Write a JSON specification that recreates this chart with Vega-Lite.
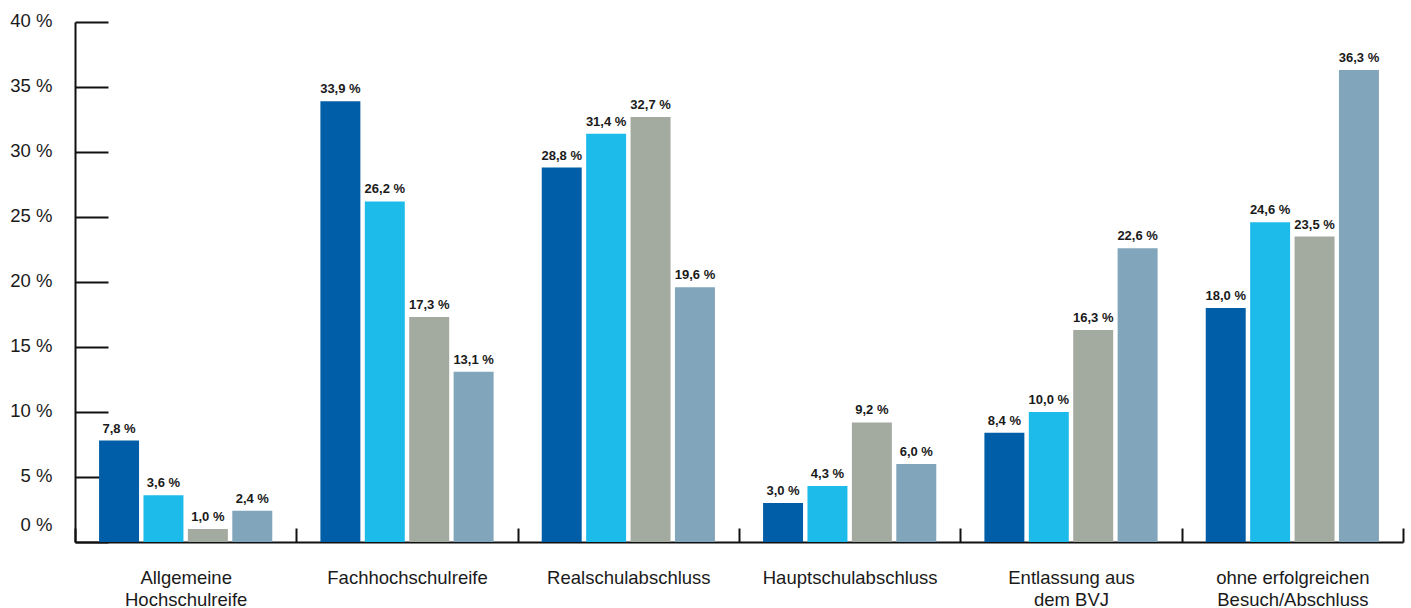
{
  "$schema": "https://vega.github.io/schema/vega-lite/v6.json",
  "autosize": {"type": "none"},
  "padding": {"left": 75, "top": 22, "right": 8, "bottom": 66},
  "width": 1328,
  "height": 520,
  "background": "white",
  "config": {
    "view": {"stroke": null},
    "font": "Liberation Sans",
    "locale": {"number": {"decimal": ",", "thousands": ".", "grouping": [3], "currency": ["", " %"]}}
  },
  "data": {
    "values": [
      {"category": "Allgemeine Hochschulreife", "series": "Reihe 1", "value": 7.8},
      {"category": "Allgemeine Hochschulreife", "series": "Reihe 2", "value": 3.6},
      {"category": "Allgemeine Hochschulreife", "series": "Reihe 3", "value": 1.0},
      {"category": "Allgemeine Hochschulreife", "series": "Reihe 4", "value": 2.4},
      {"category": "Fachhochschulreife", "series": "Reihe 1", "value": 33.9},
      {"category": "Fachhochschulreife", "series": "Reihe 2", "value": 26.2},
      {"category": "Fachhochschulreife", "series": "Reihe 3", "value": 17.3},
      {"category": "Fachhochschulreife", "series": "Reihe 4", "value": 13.1},
      {"category": "Realschulabschluss", "series": "Reihe 1", "value": 28.8},
      {"category": "Realschulabschluss", "series": "Reihe 2", "value": 31.4},
      {"category": "Realschulabschluss", "series": "Reihe 3", "value": 32.7},
      {"category": "Realschulabschluss", "series": "Reihe 4", "value": 19.6},
      {"category": "Hauptschulabschluss", "series": "Reihe 1", "value": 3.0},
      {"category": "Hauptschulabschluss", "series": "Reihe 2", "value": 4.3},
      {"category": "Hauptschulabschluss", "series": "Reihe 3", "value": 9.2},
      {"category": "Hauptschulabschluss", "series": "Reihe 4", "value": 6.0},
      {"category": "Entlassung aus dem BVJ", "series": "Reihe 1", "value": 8.4},
      {"category": "Entlassung aus dem BVJ", "series": "Reihe 2", "value": 10.0},
      {"category": "Entlassung aus dem BVJ", "series": "Reihe 3", "value": 16.3},
      {"category": "Entlassung aus dem BVJ", "series": "Reihe 4", "value": 22.6},
      {"category": "ohne erfolgreichen Besuch/Abschluss", "series": "Reihe 1", "value": 18.0},
      {"category": "ohne erfolgreichen Besuch/Abschluss", "series": "Reihe 2", "value": 24.6},
      {"category": "ohne erfolgreichen Besuch/Abschluss", "series": "Reihe 3", "value": 23.5},
      {"category": "ohne erfolgreichen Besuch/Abschluss", "series": "Reihe 4", "value": 36.3}
    ]
  },
  "encoding": {
    "x": {
      "field": "category",
      "type": "nominal",
      "sort": null,
      "scale": {"paddingInner": 0, "paddingOuter": 0},
      "axis": {
        "title": null,
        "labelAngle": 0,
        "labelFontSize": 18.5,
        "labelColor": "#1a1a1a",
        "labelLineHeight": 22,
        "labelBaseline": "top",
        "labelPadding": 40,
        "labelExpr": "datum.label == 'Allgemeine Hochschulreife' ? ['Allgemeine', 'Hochschulreife'] : datum.label == 'Entlassung aus dem BVJ' ? ['Entlassung aus', 'dem BVJ'] : datum.label == 'ohne erfolgreichen Besuch/Abschluss' ? ['ohne erfolgreichen', 'Besuch/Abschluss'] : datum.label",
        "tickBand": "extent",
        "tickSize": -14,
        "tickWidth": 2,
        "tickColor": "#111111",
        "domainColor": "#111111",
        "domainWidth": 2,
        "grid": false
      }
    },
    "xOffset": {
      "field": "series",
      "type": "nominal",
      "scale": {"paddingInner": 0.1, "paddingOuter": 0.542}
    },
    "y": {
      "field": "value",
      "type": "quantitative",
      "scale": {"domain": [0, 40], "nice": false},
      "axis": {
        "title": null,
        "values": [0, 5, 10, 15, 20, 25, 30, 35, 40],
        "labelExpr": "datum.value + ' %'",
        "labelFontSize": 18.5,
        "labelColor": "#1a1a1a",
        "labelPadding": 56,
        "labelOffset": {"condition": {"test": "datum.value == 0", "value": -18}, "value": -2},
        "tickSize": -33,
        "tickWidth": 2,
        "tickColor": "#111111",
        "domainColor": "#111111",
        "domainWidth": 2,
        "grid": false
      }
    }
  },
  "layer": [
    {
      "mark": {"type": "bar"},
      "encoding": {
        "color": {
          "field": "series",
          "type": "nominal",
          "scale": {"domain": ["Reihe 1", "Reihe 2", "Reihe 3", "Reihe 4"], "range": ["#005EA8", "#1DBBE9", "#A3AA9F", "#81A5BA"]},
          "legend": null
        }
      }
    },
    {
      "mark": {"type": "text", "baseline": "alphabetic", "dy": -8, "fontSize": 13, "fontWeight": "bold", "color": "#1a1a1a"},
      "encoding": {
        "text": {"field": "value", "type": "quantitative", "format": "$.1f"}
      }
    }
  ]
}
